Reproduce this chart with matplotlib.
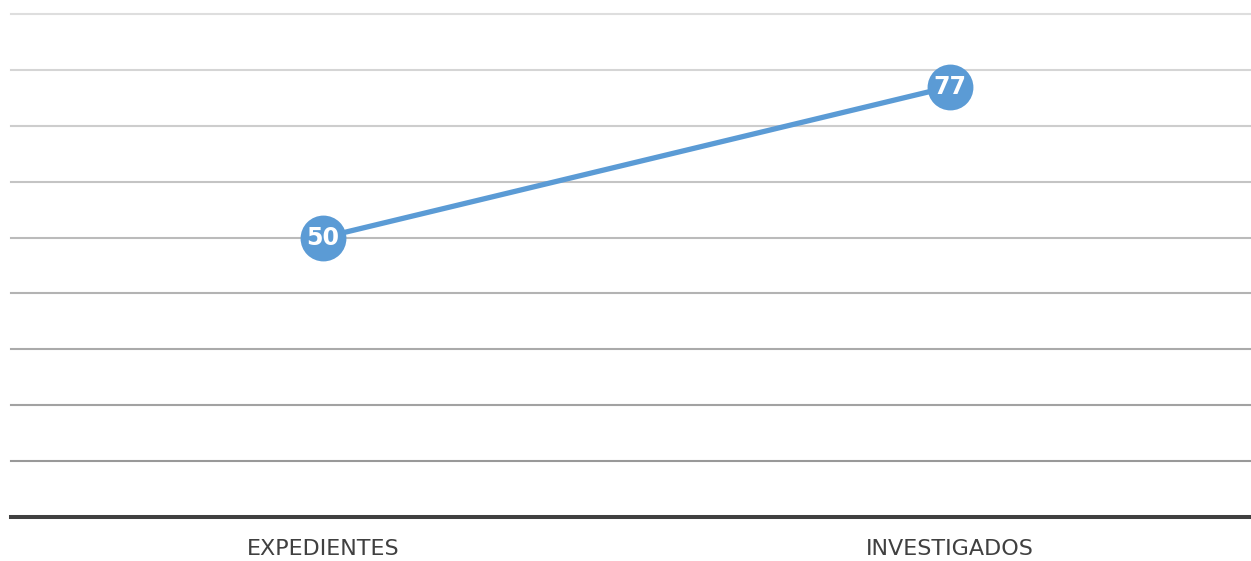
import matplotlib
matplotlib.use("Agg")
import matplotlib.pyplot as plt
import numpy as np

categories = ["EXPEDIENTES", "INVESTIGADOS"]
values = [50, 77]
y_ticks = [10, 20, 30, 40, 50, 60, 70, 80, 90]

BLUE = "#5b9bd5"

fig = plt.figure(figsize=(12.51, 5.61), dpi=100)
ax = fig.add_axes([11 / 1251, 1 - 517 / 561, 1239 / 1251, 503 / 561])

x = np.arange(len(categories))

# gridlines: light at top, darker toward the baseline
top_c, bot_c = np.array([0.87, 0.87, 0.87]), np.array([0.60, 0.60, 0.60])
for t in y_ticks:
    f = (t - y_ticks[0]) / (y_ticks[-1] - y_ticks[0])
    ax.axhline(t, color=bot_c + (top_c - bot_c) * f, lw=1.5, zorder=1, clip_on=False)
ax.axhline(0, color="#404040", lw=2.9, zorder=2, clip_on=False)

ax.plot(x, values, color=BLUE, lw=3.8, marker="o", markersize=33,
        markeredgewidth=0, zorder=3)
for xi, v in zip(x, values):
    ax.text(xi, v, str(v), ha="center", va="center", color="white",
            fontsize=17, fontweight="bold", zorder=4)

ax.set_xlim(-0.4976, 1.478)
ax.set_ylim(0, 90)
ax.set_xticks(x)
ax.set_xticklabels(categories, fontsize=16, color="#404040")
ax.tick_params(axis="x", length=0, pad=16)
ax.set_yticks([])
for s in ax.spines.values():
    s.set_visible(False)

fig.savefig("out.png", dpi=100)
